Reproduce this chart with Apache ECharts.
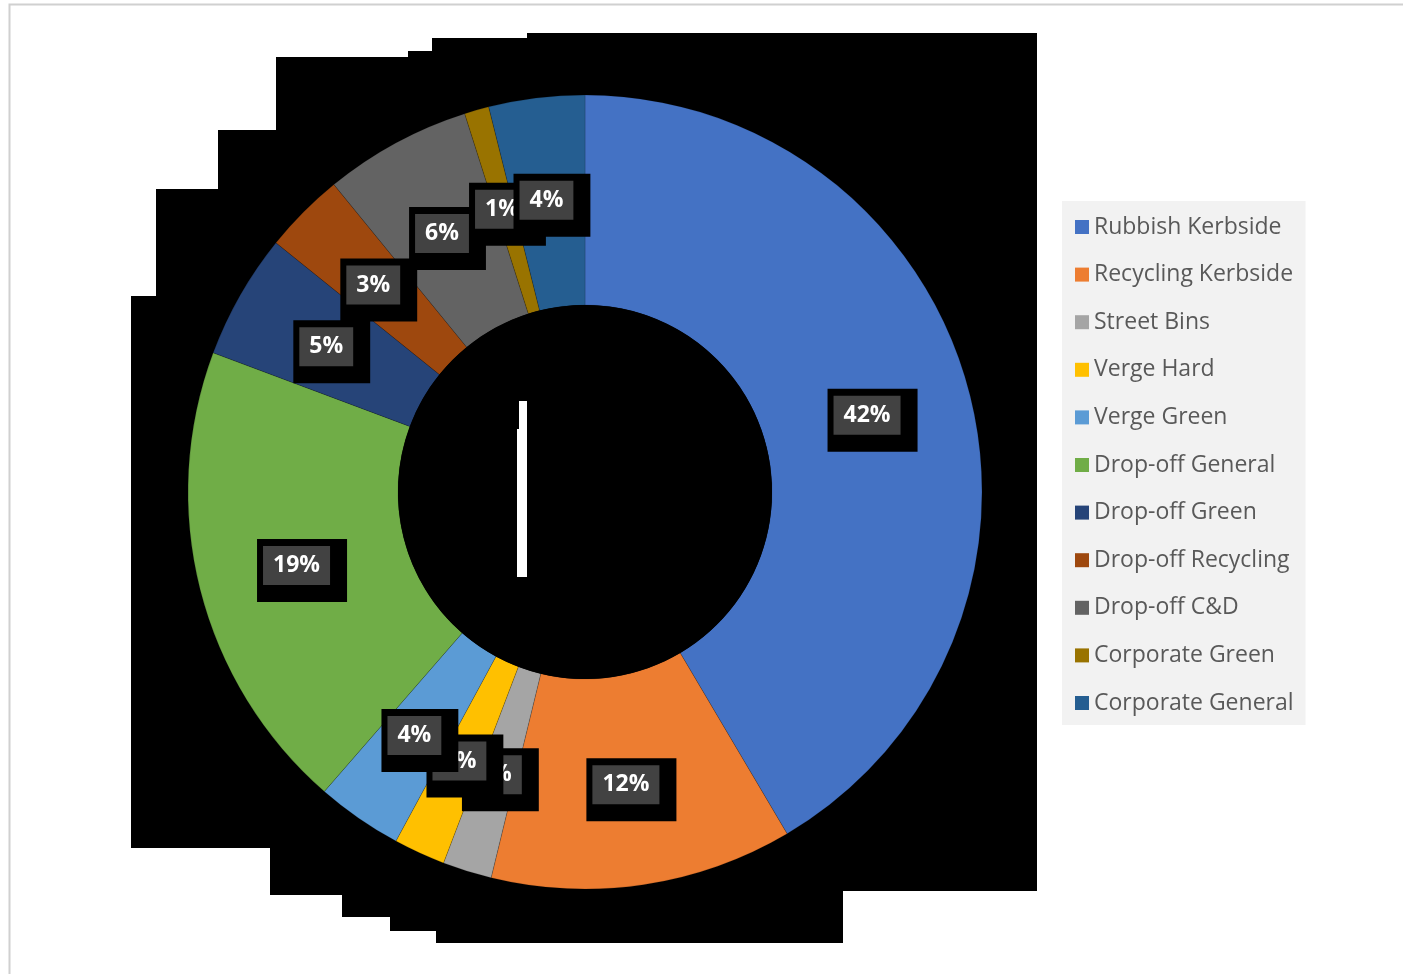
<!DOCTYPE html>
<html><head><meta charset="utf-8">
<script src="https://cdn.jsdelivr.net/npm/echarts@6/dist/echarts.min.js"></script>
<style>html,body{margin:0;padding:0;background:#fff}#c{width:1403px;height:974px}</style>
</head><body><div id="c"></div>
<script>
const categories = ['Rubbish Kerbside','Recycling Kerbside','Street Bins','Verge Hard','Verge Green','Drop-off General','Drop-off Green','Drop-off Recycling','Drop-off C&D','Corporate Green','Corporate General'];
const values = [41.5, 12.3, 2.0, 2.1, 3.5, 19.3, 5.1, 3.3, 6.0, 1.0, 3.9];
const colors = ['#4472C4','#ED7D31','#A5A5A5','#FFC000','#5B9BD5','#70AD47','#264478','#9E480E','#636363','#997300','#255E91'];

const chart = echarts.init(document.getElementById('c'), null, {renderer:'canvas'});
const blackShape = [[527,33],[1037,33],[1037,891],[843,891],[843,943],[436,943],[436,931],[390,931],[390,917],[342,917],[342,895],[270,895],[270,848],[131,848],[131,296],[156,296],[156,189],[218,189],[218,130],[276,130],[276,57],[408,57],[408,51],[432,51],[432,38],[527,38]];
const whiteBar = [[519,401],[527,401],[527,577],[517,577],[517,429],[519,429]];

chart.setOption({
  backgroundColor:'#ffffff',
  animation:false,
  graphic:[
    {type:'rect', z:0, shape:{x:9.5,y:4.5,width:1420,height:1000}, style:{fill:'none', stroke:'#d0d0d0', lineWidth:2}, silent:true},
    {type:'polygon', z:0, shape:{points:blackShape}, style:{fill:'#000'}, silent:true},
    {type:'polygon', z:100, shape:{points:whiteBar}, style:{fill:'#fff'}, silent:true}
  ],
  legend:{
    orient:'vertical', left:1062, top:201,
    backgroundColor:'#f2f2f2',
    padding:[14,12,10,13],
    itemGap:23.6, itemWidth:14, itemHeight:14,
    icon:'rect',
    itemStyle:{borderWidth:0},
    selectedMode:false,
    data:categories,
    textStyle:{fontSize:23, color:'#595959', fontFamily:'Open Sans', lineHeight:24}
  },
  series:[
    {
      type:'pie', z:2,
      center:[585,492], radius:[187,397],
      startAngle:90, clockwise:true,
      percentPrecision:0,
      emphasis:{disabled:true},
      itemStyle:{borderColor:'rgba(0,0,0,0.25)', borderWidth:0.6},
      labelLayout:{hideOverlap:false, dx:3, dy:6},
      label:{
        show:true, position:'inside',
        formatter:'{g|{d}%}',
        backgroundColor:'#000',
        padding:[7,17,17,6],
        rich:{
          g:{color:'#fff', fontWeight:'bold', fontSize:23, fontFamily:'Open Sans', lineHeight:39, height:39,
             backgroundColor:'#424242', padding:[0,10,0,10]}
        }
      },
      labelLine:{show:false},
      data:categories.map((n,i)=>({name:n, value:values[i], itemStyle:{color:colors[i]}}))
    },
    {
      type:'pie', z:3, silent:true,
      center:[585,492], radius:[0,187],
      emphasis:{disabled:true},
      label:{show:false}, labelLine:{show:false},
      data:[{name:'hole', value:1, itemStyle:{color:'#000'}}]
    }
  ]
});
</script></body></html>
